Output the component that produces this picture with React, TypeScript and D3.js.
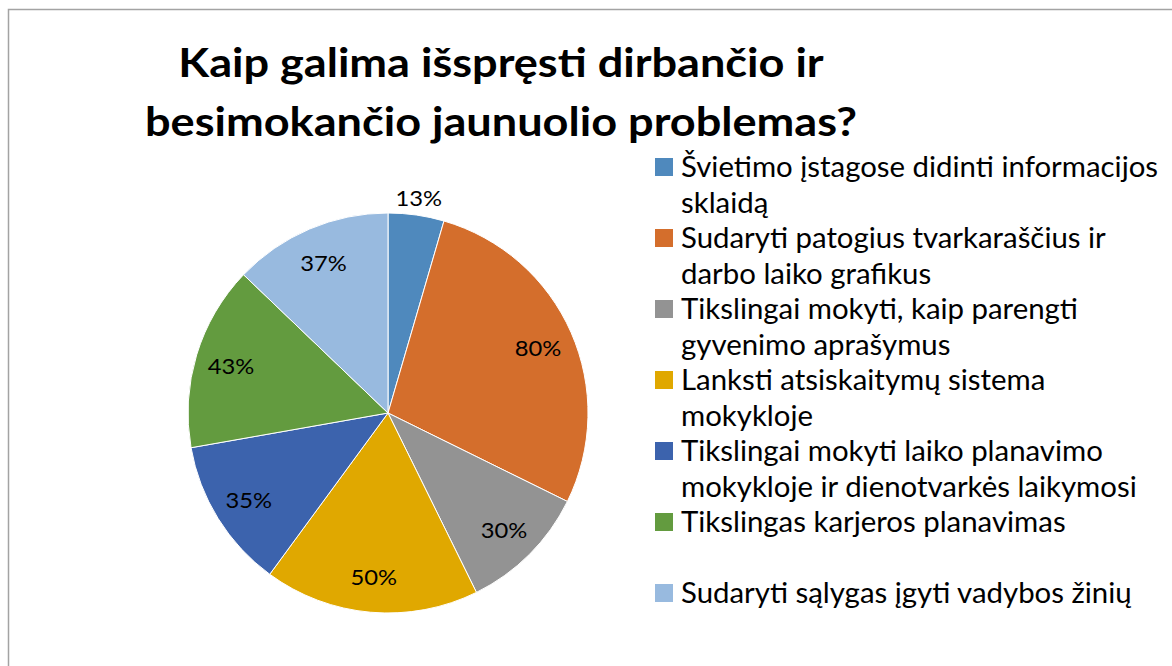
import React from "react";
import * as d3 from "d3";

const titleLines = ["Kaip galima išspręsti dirbančio ir", "besimokančio jaunuolio problemas?"];
const categories = [
  "Švietimo įstagose didinti informacijos sklaidą",
  "Sudaryti patogius tvarkaraščius ir darbo laiko grafikus",
  "Tikslingai mokyti, kaip parengti gyvenimo aprašymus",
  "Lanksti atsiskaitymų sistema mokykloje",
  "Tikslingai mokyti laiko planavimo mokykloje ir dienotvarkės laikymosi",
  "Tikslingas karjeros planavimas",
  "Sudaryti sąlygas įgyti vadybos žinių",
];
const legendLines = [
  ["Švietimo įstagose didinti informacijos", "sklaidą"],
  ["Sudaryti patogius tvarkaraščius ir", "darbo laiko grafikus"],
  ["Tikslingai mokyti, kaip parengti", "gyvenimo aprašymus"],
  ["Lanksti atsiskaitymų sistema", "mokykloje"],
  ["Tikslingai mokyti laiko planavimo", "mokykloje ir dienotvarkės laikymosi"],
  ["Tikslingas karjeros planavimas", ""],
  ["Sudaryti sąlygas įgyti vadybos žinių"],
];
const values = [13, 80, 30, 50, 35, 43, 37];
const colors = ["#4F89BD", "#D46E2C", "#939393", "#E0A800", "#3C63AD", "#639B3F", "#98BADF"];

const W = 1172;
const H = 666;
const cx = 388;
const cy = 413;
const R = 200;
const font = "Lato, 'Open Sans', sans-serif";

export default function App() {
  const pie = d3.pie<number>().sort(null).value((d) => d)(values);
  const arc = d3.arc<d3.PieArcDatum<number>>().innerRadius(0).outerRadius(R);
  const labelArc = d3.arc<d3.PieArcDatum<number>>().innerRadius(164).outerRadius(164);
  const outArc = d3.arc<d3.PieArcDatum<number>>().innerRadius(218).outerRadius(218);

  const lineH = 35.5;
  const legendX = 655;
  const legendY0 = 177;
  let lineIdx = 0;
  const legendItems = legendLines.map((lines, i) => {
    const start = lineIdx;
    lineIdx += lines.length;
    return { lines, start, i };
  });

  return (
    <svg width={W} height={H} style={{ position: "absolute", left: 0, top: 0, background: "#fff" }}>
      <rect x={8.5} y={9.5} width={W + 10} height={H + 10} fill="#fff" stroke="#a3a3a3" strokeWidth={1.5} />
      <g fontFamily={font} fontWeight={700} fontSize={41} fill="#000" textAnchor="middle">
        {titleLines.map((t, i) => (
          <text key={i} transform={`translate(501,${77 + i * 59}) scale(1.1,1)`}>{t}</text>
        ))}
      </g>
      <g transform={`translate(${cx},${cy})`}>
        {pie.map((p, i) => (
          <path key={i} d={arc(p) || ""} fill={colors[i]} stroke="#fff" strokeWidth={1} />
        ))}
        {pie.map((p, i) => {
          const [x, y] = i === 0 ? outArc.centroid(p) : labelArc.centroid(p);
          return (
            <text key={"l" + i} transform={`translate(${x},${y}) scale(1.08,1)`} fontFamily={font} fontSize={22} textAnchor="middle" dominantBaseline="central" fill="#000">
              {Math.round(p.data)}%
            </text>
          );
        })}
      </g>
      <g fontFamily={font} fontSize={28} fill="#000">
        {legendItems.map(({ lines, start, i }) => (
          <g key={i}>
            <rect x={legendX} y={legendY0 + start * lineH - 19} width={18} height={18} fill={colors[i]} />
            {lines.map((l, j) => (
              <text key={j} transform={`translate(${legendX + 26},${legendY0 + (start + j) * lineH}) scale(1.05,1)`}>{l}</text>
            ))}
          </g>
        ))}
      </g>
    </svg>
  );
}
